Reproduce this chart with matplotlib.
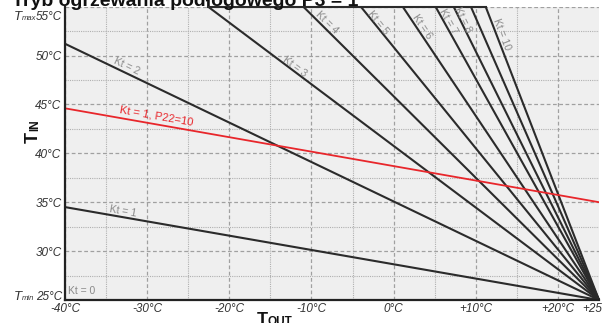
import numpy as np
import matplotlib
matplotlib.use("Agg")
import matplotlib.pyplot as plt

# ---- data ----
kt_values = [1, 2, 3, 4, 5, 6, 7, 8, 9, 10]
# start point of each heating curve (T_out, T_in); all end at (+25, 25)
kt_start_tout = [-40, -40, -22.6, -11.0, -4.0, 1.1, 5.1, 7.3, 9.4, 11.2]
kt_start_tin = [34.5, 51.2, 55, 55, 55, 55, 55, 55, 55, 55]
end_tout = 25
end_tin = 25
red_tout = [-40, 25]
red_tin = [44.6, 35.0]
red_label = "Kt = 1, P22=10"
x_ticks = [-40, -30, -20, -10, 0, 10, 20, 25]
x_ticklabels = ["-40°C", "-30°C", "-20°C", "-10°C", "0°C", "+10°C", "+20°C", "+25°C"]
y_ticks = [25, 30, 35, 40, 45, 50, 55]
y_ticklabels = ["25°C", "30°C", "35°C", "40°C", "45°C", "50°C", "55°C"]
title = "Tryb ogrzewania podłogowego P3 = 1"

# label positions (data coords) for each Kt label
label_kts = [0, 1, 2, 3, 4, 5, 6, 7, 8, 10]
label_pos = [(-39.6, 25.45), (-32.9, 34.1), (-32.5, 48.9), (-12.0, 48.8), (-8.1, 53.4),
             (-1.9, 53.4), (3.5, 52.9), (6.6, 53.5), (8.4, 53.6), (13.2, 52.2)]
red_label_pos = (-28.9, 43.8)

W, H = 603, 323
fig = plt.figure(figsize=(W / 100, H / 100), dpi=100)
fig.patch.set_facecolor("white")
ax = fig.add_axes([65 / W, 1 - 300 / H, (599 - 65) / W, (300 - 6.6) / H])
ax.set_facecolor("#efefef")
ax.set_xlim(-40, 25)
ax.set_ylim(25, 55)

# grid
for x in range(-40, 21, 10):
    ax.axvline(x, color="#a0a0a0", lw=0.9, ls=(0, (3, 2)), zorder=1)
for x in range(-35, 21, 10):
    ax.axvline(x, color="#b0b0b0", lw=0.8, ls=(0, (1, 1)), zorder=1)
for y in range(25, 56, 5):
    ax.axhline(y, color="#a0a0a0", lw=0.9, ls=(0, (3, 2)), zorder=1)
for y in np.arange(27.5, 55, 5):
    ax.axhline(y, color="#b0b0b0", lw=0.8, ls=(0, (1, 1)), zorder=1)

line_col = "#2b2b2b"
for k, x0, y0 in zip(kt_values, kt_start_tout, kt_start_tin):
    ax.plot([x0, end_tout], [y0, end_tin], color=line_col, lw=1.5, zorder=3,
            solid_capstyle="butt", clip_on=False)
# clipped top segment at Tmax
tops = [x for x, y in zip(kt_start_tout, kt_start_tin) if y >= 55]
ax.plot([min(tops), max(tops)], [55, 55], color=line_col, lw=1.5, zorder=3, clip_on=False)

ax.plot(red_tout, red_tin, color="#e8262b", lw=1.3, zorder=4)

for sp in ["top", "right"]:
    ax.spines[sp].set_visible(False)
for sp in ["left", "bottom"]:
    ax.spines[sp].set_linewidth(1.6)
    ax.spines[sp].set_color("#222222")
    ax.spines[sp].set_zorder(5)

tick_font = dict(family="Liberation Sans", style="italic", fontsize=8.5, color="#333333")

ax.set_xticks(x_ticks)
ax.set_xticklabels(x_ticklabels)
ax.set_yticks(y_ticks)
# the extreme labels (Tmin / Tmax) are placed separately below
ax.set_yticklabels([""] + y_ticklabels[1:-1] + [""])
ax.tick_params(length=0, pad=2.5, labelsize=8.5, labelcolor="#333333")
for lab in ax.get_xticklabels() + ax.get_yticklabels():
    lab.set_family("Liberation Sans")
    lab.set_style("italic")

fig.canvas.draw()


def slope_angle(x0, y0, x1, y1):
    p0 = ax.transData.transform((x0, y0))
    p1 = ax.transData.transform((x1, y1))
    return np.degrees(np.arctan2(p1[1] - p0[1], p1[0] - p0[0]))


lab_font = dict(family="Liberation Sans", fontsize=7.5, color="#8a8a8a")
for k, (lx, ly) in zip(label_kts, label_pos):
    if k == 0:
        ax.text(lx, ly, "Kt = 0", ha="left", va="bottom", zorder=6, **lab_font)
        continue
    i = kt_values.index(k)
    ang = slope_angle(kt_start_tout[i], kt_start_tin[i], end_tout, end_tin)
    ax.text(lx, ly, f"Kt = {k}", ha="center", va="center", rotation=ang,
            rotation_mode="anchor", zorder=6, **lab_font)

ang = slope_angle(red_tout[0], red_tin[0], red_tout[1], red_tin[1])
ax.text(red_label_pos[0], red_label_pos[1], red_label, ha="center", va="center",
        rotation=ang, rotation_mode="anchor", family="Liberation Sans",
        fontsize=8, color="#e8262b", zorder=6)


def px(x, y):
    return x / W, 1 - y / H


# Tmax / Tmin labels
for ypix, sub, lab in [(20, "max", y_ticklabels[-1]), (300, "min", y_ticklabels[0])]:
    fig.text(*px(62, ypix), lab, ha="right", va="baseline", **tick_font)
    fig.text(*px(21.5, ypix), sub, family="Liberation Sans", style="italic",
             fontsize=5.5, color="#333333", ha="left", va="baseline")
    fig.text(*px(21.5, ypix), "T", family="Liberation Sans", style="italic",
             fontsize=9.5, color="#333333", ha="right", va="baseline")

# axis labels
fig.text(*px(38, 143), "T", family="Liberation Sans", weight="bold", fontsize=13,
         rotation=90, rotation_mode="anchor", ha="left", va="baseline", color="#111111")
fig.text(*px(38, 131), "IN", family="Liberation Sans", weight="bold", fontsize=8.5,
         rotation=90, rotation_mode="anchor", ha="left", va="baseline", color="#111111")
fig.text(*px(257, 325), "T", family="Liberation Sans", weight="bold", fontsize=13,
         ha="left", va="baseline", color="#111111")
fig.text(*px(268, 325), "OUT", family="Liberation Sans", weight="bold", fontsize=8.5,
         ha="left", va="baseline", color="#111111")

# title (cut off at the top)
fig.text(*px(12, 6), title, family="Liberation Sans", weight="bold", fontsize=14,
         ha="left", va="baseline", color="#111111")

fig.savefig("out.png", dpi=100)
